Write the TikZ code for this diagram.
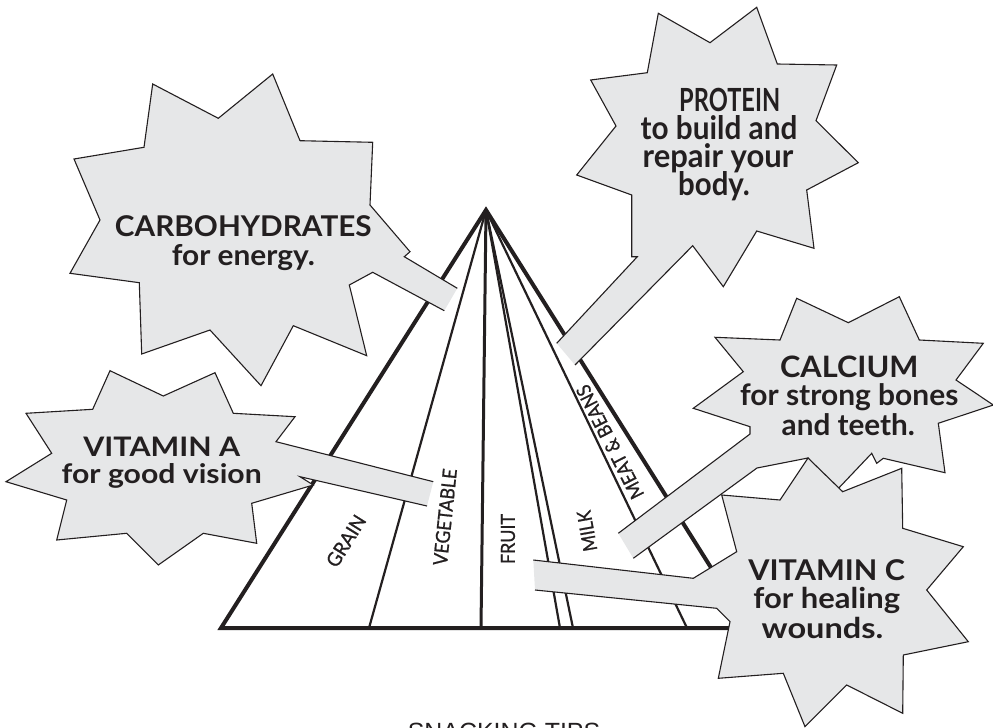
\documentclass[tikz,border=0pt]{standalone}
\usepackage{fontspec}
\usepackage{graphicx}
\setmainfont{Lato}
\newfontfamily\snackfont{Liberation Sans}
\newfontfamily\labelfont[FakeBold=1]{Lato}
\definecolor{ink}{RGB}{35,31,32}
\definecolor{callgray}{RGB}{230,231,232}
\newcommand{\fitto}[2]{\resizebox{#1bp}{\height}{#2}}
\begin{document}
\begin{tikzpicture}[x=1bp,y=-1bp,line join=miter,
  callout/.style={draw=ink,fill=callgray,line width=1.1bp},
  edge/.style={draw=ink,line width=4bp},
  midline/.style={draw=ink,line width=3bp},
  divider/.style={draw=ink,line width=2.2bp},
  head/.style={font=\fontsize{#1}{#1}\selectfont\bfseries,text=ink,inner sep=0pt,anchor=base},
  pyrlabel/.style={font=\labelfont\fontsize{19.5}{19.5}\selectfont,text=ink,inner sep=0pt}]
\useasboundingbox (0,0) rectangle (993,728);
\clip (0,0) rectangle (993,728);
% pyramid
\coordinate (apex) at (486,210);
\coordinate (bl) at (221,628);
\coordinate (br) at (749,628);
\coordinate (b1) at (369,628);
\coordinate (b2) at (481,628);
\coordinate (b3) at (560,628);
\coordinate (b4) at (573,628);
\coordinate (b5) at (687,628);
\draw[divider] (apex) -- (b1);
\draw[midline] (apex) -- (b2);
\draw[divider] (apex) -- (b3);
\draw[divider] (apex) -- (b4);
\draw[divider] (apex) -- (b5);
\draw[edge] (bl) -- (apex) -- (br) -- cycle;
\node[pyrlabel,rotate=58] (grain) at (346,541) {\fitto{57}{GRAIN}};
\node[pyrlabel,rotate=84] (veg) at (445,517) {\fitto{97}{VEGETABLE}};
\node[pyrlabel,rotate=90] (fruit) at (508,539) {\fitto{50}{FRUIT}};
\node[pyrlabel,rotate=100] (milk) at (587,531) {\fitto{41}{MILK}};
\node[pyrlabel,rotate=117] (meat) at (610,442) {\fitto{125}{MEAT \& BEANS}};
% carbohydrates
\draw[callout] (457.3,288.3) -- (404.3,256.7) -- (410,251.7) -- (370,205) -- (372.7,142.3) -- (300,140.7) -- (272.7,74) -- (218.3,118.3) -- (152.7,84) -- (144,147.3) -- (74,159) -- (100,220) -- (70,273.3) -- (139.3,282.7) -- (141.7,354) -- (210,330) -- (261,385.7) -- (293.3,325.7) -- (366.7,355.7) -- (349.3,285) -- (372.7,272.3) -- (444.3,310.7);
% protein
\draw[callout] (556.7,343.3) -- (637.3,256.7) -- (631.7,256.7) -- (631.7,195) -- (576.7,175) -- (616,126) -- (590.7,80) -- (647.3,72.7) -- (658.3,13.3) -- (710,42.7) -- (756.7,7.3) -- (777.3,64) -- (836.7,65) -- (816,120.7) -- (858.3,162.7) -- (806.7,190) -- (814,248.3) -- (756.7,231) -- (723.3,286.7) -- (692.7,245.7) -- (575,365);
% vitamin A
\draw[callout] (433.3,481.7) -- (276,441.7) -- (295,416.7) -- (233.3,413.3) -- (215,372.7) -- (163.3,396) -- (110,370.7) -- (92.7,409.3) -- (26,413.3) -- (51.7,453.3) -- (6,481.7) -- (66.7,500) -- (56.7,540) -- (126.7,533.3) -- (158.3,565) -- (203.3,533.3) -- (256.7,543.3) -- (251.7,503.3) -- (313.3,485) -- (300,476.7) -- (427,506);
% calcium
\draw[callout] (618.3,533.3) -- (750,434) -- (750,426.7) -- (693.3,408.3) -- (743.3,371.7) -- (715,337.3) -- (780,340) -- (796.7,298.3) -- (848.3,322.7) -- (899.3,296.7) -- (919.3,340) -- (983.3,343.3) -- (956,380) -- (993.3,405) -- (938.3,423.3) -- (945,472.7) -- (883.3,458.3) -- (876.7,463.3) -- (871.7,453.3) -- (835,492) -- (808,458) -- (757,468) -- (633.3,558.3);
% vitamin C
\draw[callout] (533.3,560) -- (693.3,578.3) -- (736.7,551.7) -- (721.7,495) -- (780,500) -- (808,458) -- (842.7,491.7) -- (901.7,468.3) -- (902.7,528.3) -- (963.3,546.7) -- (926.7,590) -- (968.3,641.7) -- (903.3,655) -- (902.7,713.3) -- (846.7,685) -- (805,726.7) -- (783.3,673.3) -- (718.3,678.3) -- (730,621.7) -- (716.7,608.3) -- (535,590);
% texts
\node[head=28.7] (carb1) at (243.3,236.7) {\fitto{256.7}{CARBOHYDRATES}};
\node[head=28.7] (carb2) at (243.3,265) {\fitto{143}{for energy.}};
\node[head=32] (prot1) at (729.7,111.7) {\fitto{101}{PROTEIN}};
\node[head=32.4] (prot2) at (719,140) {\fitto{156.6}{to build and}};
\node[head=32.4] (prot3) at (718,167.5) {\fitto{150.6}{repair your}};
\node[head=32.4] (prot4) at (714,196) {\fitto{71.7}{body.}};
\node[head=27] (vita1) at (161.7,456.7) {\fitto{156.7}{VITAMIN A}};
\node[head=27] (vita2) at (161.7,483.3) {\fitto{200}{for good vision}};
\node[head=29.6] (calc1) at (849.2,377.3) {\fitto{138.3}{CALCIUM}};
\node[head=29.6] (calc2) at (849.2,405) {\fitto{218.3}{for strong bones}};
\node[head=29.6] (calc3) at (848.3,435) {\fitto{133.3}{and teeth.}};
\node[head=28.7] (vitc1) at (826.7,580) {\fitto{156.7}{VITAMIN C}};
\node[head=28.7] (vitc2) at (826.7,608.3) {\fitto{146.7}{for healing}};
\node[head=28.7] (vitc3) at (822.5,638.3) {\fitto{121.7}{wounds.}};
\node[font=\snackfont\fontsize{25}{25}\selectfont,text=ink,anchor=base,inner sep=0pt] (snack) at (504,740) {SNACKING TIPS};
\end{tikzpicture}
\end{document}
